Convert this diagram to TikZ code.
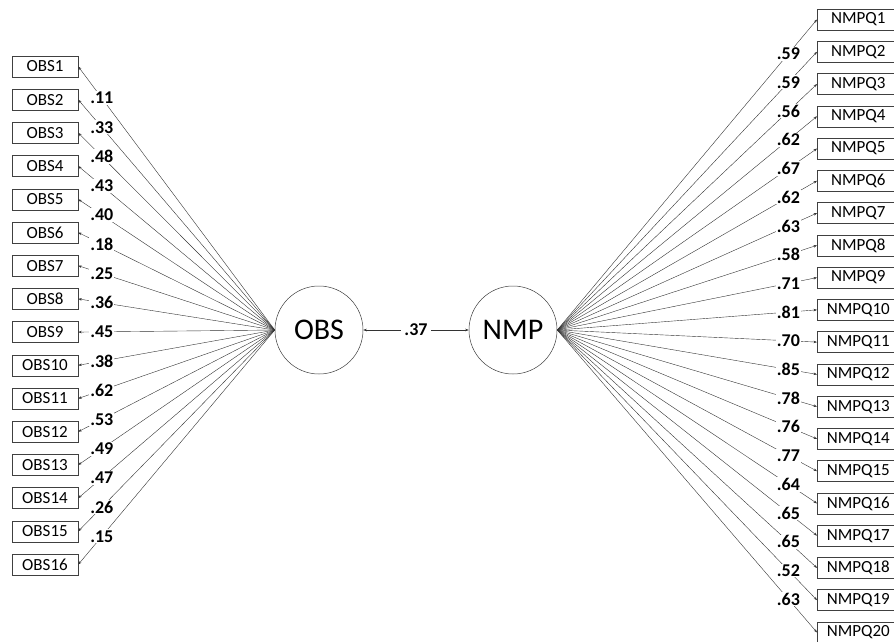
\documentclass[tikz,border=0pt]{standalone}
\usepackage{fontspec}
\setmainfont{Carlito}
\usetikzlibrary{arrows.meta}

\begin{document}
\begin{tikzpicture}[x=1pt, y=-1pt,
    latent/.style={draw=black!75, circle, line width=0.5pt, minimum size=88pt, inner sep=0pt, font=\fontsize{30}{34}\selectfont},
    item/.style={draw=black!75, rectangle, line width=0.5pt, minimum height=21pt, inner sep=0pt, font=\fontsize{17}{19}\selectfont},
    load/.style={draw=black!80, line width=0.4pt, -{Stealth[length=3.5pt, width=2.5pt]}},
    coef/.style={fill=white, inner sep=1pt, font=\bfseries\fontsize{18}{20}\selectfont}]
    \useasboundingbox (0,0) rectangle (894,641);
    \node[latent] (obs) at (319,330) {OBS};
    \node[latent] (nmp) at (513,330) {NMP};
    % observed indicators of OBS
    \foreach \i/\c in {1/.11, 2/.33, 3/.48, 4/.43, 5/.40, 6/.18, 7/.25, 8/.36,
                       9/.45, 10/.38, 11/.62, 12/.53, 13/.49, 14/.47, 15/.26, 16/.15} {
        \node[item, minimum width=66pt] (o\i) at (45,{66.5+(\i-1)*33.2}) {OBS\i};
        \draw[load] (obs.west) -- node[coef, pos=0.88] {\c} (o\i.east);
    }
    % observed indicators of NMP
    \foreach \i/\c in {1/.59, 2/.59, 3/.56, 4/.62, 5/.67, 6/.62, 7/.63, 8/.58, 9/.71, 10/.81,
                       11/.70, 12/.85, 13/.78, 14/.76, 15/.77, 16/.64, 17/.65, 18/.65, 19/.52, 20/.63} {
        \node[item, minimum width=82pt, anchor=west] (q\i) at (817,{19.5+(\i-1)*32.26}) {NMPQ\i};
        \draw[load] (nmp.east) -- node[coef, pos=0.89] {\c} (q\i.west);
    }
    \draw[load, {Stealth[length=3.5pt, width=2.5pt]}-{Stealth[length=3.5pt, width=2.5pt]}] (obs) -- node[coef, inner sep=3pt] {.37} (nmp);
\end{tikzpicture}
\end{document}
